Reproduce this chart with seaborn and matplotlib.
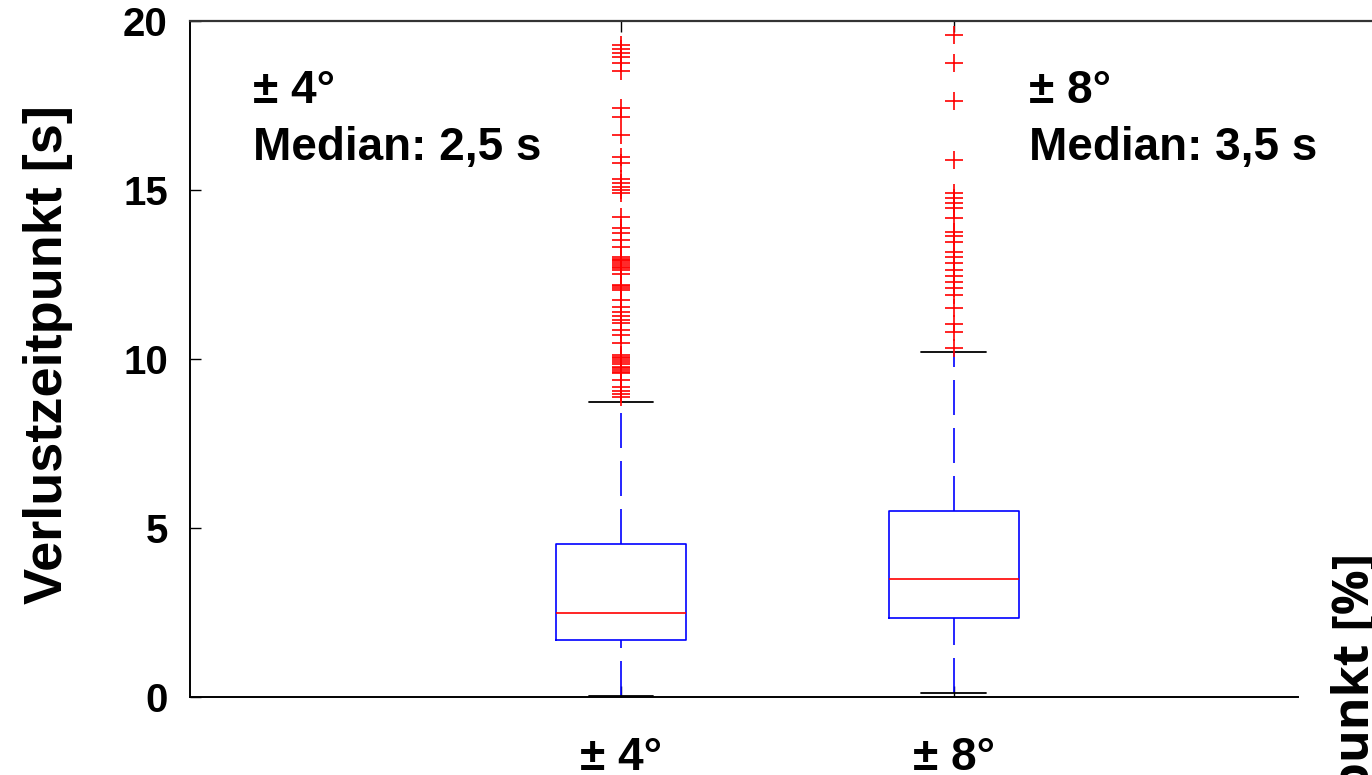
import numpy as np
import pandas as pd
import matplotlib
matplotlib.use("Agg")
import matplotlib.pyplot as plt
import seaborn as sns

# Groups (tolerance band) and their box statistics, in seconds
groups = ["± 4°", "± 8°"]
positions = [1, 2]
whisker_low = [0.05, 0.12]
q1 = [1.69, 2.34]
median = [2.5, 3.5]
q3 = [4.52, 5.51]
whisker_high = [8.72, 10.19]

# Outliers beyond the upper whisker
outliers_4 = [19.28, 19.15, 19.03, 18.91, 18.75, 18.52, 17.41, 17.16, 16.62,
              15.98, 15.80, 15.31, 15.19, 15.09, 14.99, 14.89, 14.18, 13.86,
              13.71, 13.51, 13.32, 13.02, 12.95, 12.92, 12.88, 12.83, 12.78,
              12.72, 12.68, 12.63, 12.51, 12.18, 12.14, 12.09, 12.04, 11.74,
              11.54, 11.39, 11.27, 11.15, 11.05, 10.85, 10.71, 10.46, 10.12,
              10.07, 10.02, 9.97, 9.92, 9.85, 9.77, 9.72, 9.67, 9.62, 9.57,
              9.38, 9.18, 9.06, 8.96, 8.87]
outliers_8 = [19.57, 18.73, 17.63, 15.88, 14.89, 14.75, 14.62, 14.45, 14.15,
              13.76, 13.63, 13.46, 13.17, 13.00, 12.83, 12.63, 12.45, 12.28,
              12.09, 11.89, 11.50, 11.03, 10.80, 10.31]

annotation_titles = ["± 4°", "± 8°"]
annotation_medians = ["Median: 2,5 s", "Median: 3,5 s"]
yticks = [0, 5, 10, 15, 20]

sns.set_theme(style="white")
plt.rcParams["font.family"] = ["Liberation Sans", "DejaVu Sans"]
plt.rcParams["font.weight"] = "bold"
for key in ["text.color", "axes.labelcolor", "xtick.color", "ytick.color"]:
    plt.rcParams[key] = "black"

W, H = 1372, 775
fig = plt.figure(figsize=(W / 100, H / 100), dpi=100)
ax = fig.add_axes([190 / W, 1 - 697.3 / H, (W - 190) / W, (697.3 - 20.5) / H])

stats = []
for i, g in enumerate(groups):
    stats.append(dict(label=g, med=median[i], q1=q1[i], q3=q3[i],
                      whislo=whisker_low[i], whishi=whisker_high[i], fliers=[]))

parts = ax.bxp(stats, positions=positions, widths=0.39, showfliers=False,
               boxprops=dict(color="blue", linewidth=1.2),
               medianprops=dict(color="red", linewidth=1.2),
               whiskerprops=dict(color="blue", linewidth=1.2, linestyle=(0, (21, 7.8))),
               capprops=dict(color="black", linewidth=1.3),
               capwidths=0.195, manage_ticks=False)
# lower whiskers start their dash pattern at the cap end
for w in parts["whiskers"][0::2]:
    w.set_xdata(np.asarray(w.get_xdata())[::-1])
    w.set_ydata(np.asarray(w.get_ydata())[::-1])

flier_df = pd.DataFrame({
    "pos": [positions[0]] * len(outliers_4) + [positions[1]] * len(outliers_8),
    "value": outliers_4 + outliers_8,
})
sns.scatterplot(data=flier_df, x="pos", y="value", marker="+", color="red",
                s=150, linewidth=1.2, ax=ax, legend=False, zorder=3)

ax.set_xlim(1 - (621 - 190) / 332.7, 2 + (1372 - 953.7) / 332.7)
ax.set_ylim(0, 20)
ax.set_xticks(positions)
ax.set_xticklabels(groups, fontsize=33, fontweight="bold")
ax.set_yticks(yticks)
ax.set_yticklabels([str(t) for t in yticks], fontsize=29, fontweight="bold")
ax.tick_params(axis="y", direction="in", length=8, width=1, color="black",
               left=True, right=False, pad=16)
ax.tick_params(axis="x", direction="in", length=8, width=1, color="black",
               bottom=True, top=True, pad=28)
ax.set_xlabel("")
ax.set_ylabel("Verlustzeitpunkt [s]", fontsize=39, fontweight="bold")
ax.yaxis.set_label_coords((73 - 190) / (W - 190), 0.506)

for side in ["left", "bottom"]:
    ax.spines[side].set_color("black")
    ax.spines[side].set_linewidth(1.4)
ax.spines["top"].set_color("#333333")
ax.spines["top"].set_linewidth(1.6)
ax.spines["right"].set_visible(False)
ax.spines["bottom"].set_bounds(ax.get_xlim()[0], 2 + (1298 - 953.7) / 332.7)

# group annotations: title line and median line
for x_text, title, med_text in zip([-0.106, 2.226], annotation_titles, annotation_medians):
    ax.text(x_text, 17.56, title, fontsize=33, fontweight="bold",
            ha="left", va="baseline")
    ax.text(x_text, 15.88, med_text, fontsize=33, fontweight="bold",
            ha="left", va="baseline")

# second panel's axis label, running off the right edge
fig.text(1369 / W, 1 - 553 / H, "Verlustzeitpunkt [%]", rotation=90,
         rotation_mode="anchor", ha="right", va="baseline",
         fontsize=36, fontweight="bold", family=["Open Sans", "DejaVu Sans"])

fig.savefig("out.png", dpi=100, facecolor="white")
